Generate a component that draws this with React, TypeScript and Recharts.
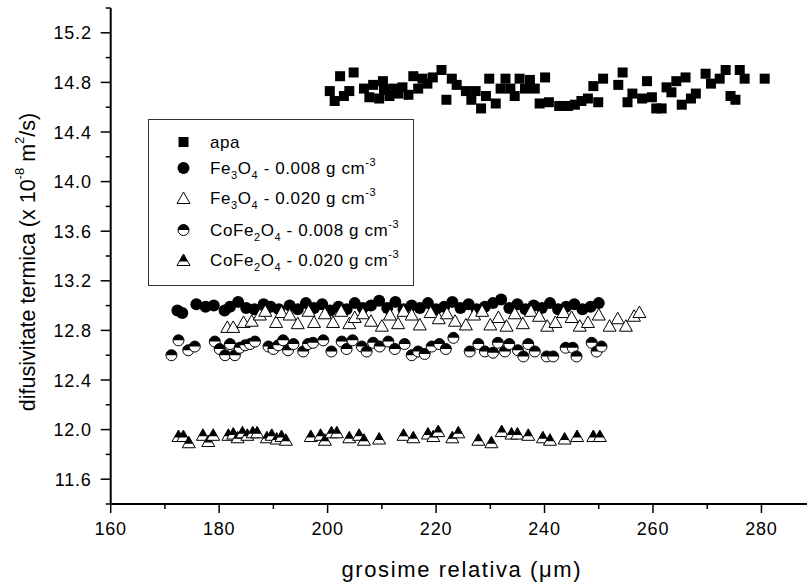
import React from 'react';
import { ScatterChart, Scatter, XAxis, YAxis, Legend } from 'recharts';

// ---------- data ----------
const apaX = [200.4, 201.3, 202.3, 203.0, 204.0, 204.8, 206.7, 207.7, 208.4, 209.5, 210.2, 210.4, 211.4, 212.1, 213.0, 213.8, 214.9, 215.8, 216.7, 217.5, 218.4, 219.4, 221.0, 221.9, 222.9, 223.8, 225.5, 226.5, 227.3, 228.3, 229.2, 229.8, 231.0, 231.9, 232.8, 233.7, 234.5, 235.4, 236.4, 237.3, 238.2, 239.1, 240.1, 240.8, 242.7, 244.3, 245.6, 246.8, 248.0, 249.0, 249.9, 250.8, 253.6, 254.4, 255.3, 256.2, 258.0, 258.9, 259.8, 260.6, 261.6, 262.5, 263.4, 264.3, 265.3, 266.0, 267.0, 267.9, 269.7, 270.7, 272.3, 273.4, 274.3, 275.2, 276.0, 276.9, 280.6];
const apaY = [14.73, 14.65, 14.85, 14.69, 14.73, 14.88, 14.75, 14.68, 14.78, 14.67, 14.81, 14.74, 14.69, 14.75, 14.71, 14.76, 14.70, 14.85, 14.75, 14.83, 14.79, 14.84, 14.90, 14.66, 14.83, 14.78, 14.73, 14.66, 14.73, 14.59, 14.69, 14.83, 14.63, 14.75, 14.83, 14.75, 14.69, 14.83, 14.75, 14.82, 14.75, 14.63, 14.84, 14.64, 14.61, 14.61, 14.62, 14.65, 14.67, 14.77, 14.64, 14.83, 14.78, 14.88, 14.64, 14.71, 14.67, 14.81, 14.68, 14.59, 14.59, 14.76, 14.72, 14.81, 14.62, 14.84, 14.67, 14.71, 14.87, 14.79, 14.83, 14.90, 14.69, 14.66, 14.90, 14.83, 14.83];

const fe008X = [172.3, 173.2, 175.8, 177.5, 179.0, 181.0, 182.0, 183.5, 185.0, 186.5, 188.2, 189.5, 191.0, 193.0, 194.5, 196.0, 197.5, 199.0, 200.5, 202.0, 203.5, 205.0, 206.5, 208.0, 209.5, 211.0, 212.5, 214.0, 215.5, 217.0, 218.5, 220.0, 221.5, 223.0, 224.5, 226.0, 227.5, 229.0, 230.5, 232.0, 233.5, 235.0, 236.5, 238.0, 239.5, 241.0, 242.5, 244.0, 245.5, 247.0, 248.5, 250.0];
const fe008Y = [12.96, 12.94, 13.01, 12.99, 13.00, 12.96, 12.99, 13.03, 12.98, 12.97, 13.01, 12.99, 12.97, 13.00, 12.97, 13.02, 12.98, 13.01, 12.96, 12.99, 12.97, 13.02, 12.98, 13.00, 13.04, 12.98, 13.03, 12.97, 13.00, 12.98, 13.02, 12.97, 12.99, 13.03, 12.98, 13.01, 12.97, 12.99, 13.02, 13.05, 12.98, 13.01, 12.97, 13.00, 12.98, 13.02, 12.97, 12.99, 13.01, 12.97, 12.99, 13.02];

const fe020X = [181.5, 182.6, 184.5, 186.0, 187.5, 188.5, 190.5, 191.5, 193.0, 194.5, 196.5, 197.5, 199.5, 201.0, 202.5, 204.0, 205.0, 206.5, 208.0, 210.0, 211.5, 213.0, 214.0, 215.5, 217.0, 219.0, 220.5, 222.0, 223.5, 225.5, 227.0, 228.5, 230.0, 231.5, 233.0, 234.5, 236.0, 237.5, 239.0, 240.5, 242.0, 243.5, 245.0, 246.5, 248.0, 250.0, 252.0, 253.5, 255.0, 256.5, 257.5];
const fe020Y = [12.82, 12.82, 12.86, 12.87, 12.92, 12.95, 12.86, 12.94, 12.92, 12.85, 12.95, 12.86, 12.93, 12.86, 12.95, 12.85, 12.90, 12.93, 12.87, 12.83, 12.92, 12.85, 12.95, 12.92, 12.84, 12.94, 12.89, 12.93, 12.87, 12.84, 12.92, 12.95, 12.84, 12.90, 12.83, 12.93, 12.85, 12.95, 12.91, 12.83, 12.86, 12.94, 12.90, 12.83, 12.86, 12.92, 12.83, 12.89, 12.83, 12.91, 12.94];

const co008X = [171.2, 172.5, 174.3, 175.5, 179.2, 180.1, 181.1, 182.0, 182.9, 183.8, 184.8, 185.7, 186.6, 189.1, 190.0, 190.9, 191.8, 192.7, 193.7, 195.5, 196.4, 197.3, 199.2, 200.7, 202.6, 203.5, 204.6, 206.3, 207.2, 208.4, 209.6, 211.2, 212.4, 214.2, 215.5, 216.7, 217.9, 219.2, 220.6, 221.8, 223.2, 226.2, 227.8, 229.0, 230.5, 231.4, 232.7, 233.5, 235.1, 236.1, 237.0, 238.2, 240.4, 241.6, 243.9, 245.2, 245.9, 248.7, 249.6, 250.5];
const co008Y = [12.60, 12.72, 12.64, 12.67, 12.71, 12.65, 12.60, 12.69, 12.60, 12.66, 12.68, 12.69, 12.71, 12.67, 12.65, 12.68, 12.72, 12.64, 12.69, 12.63, 12.69, 12.70, 12.72, 12.63, 12.71, 12.65, 12.72, 12.67, 12.63, 12.70, 12.67, 12.71, 12.65, 12.69, 12.60, 12.63, 12.61, 12.67, 12.69, 12.65, 12.74, 12.63, 12.69, 12.63, 12.62, 12.70, 12.63, 12.69, 12.64, 12.59, 12.69, 12.63, 12.59, 12.59, 12.66, 12.66, 12.59, 12.70, 12.63, 12.67];

const co020X = [172.5, 173.4, 174.4, 177.0, 178.0, 178.9, 181.7, 182.6, 183.4, 184.3, 185.2, 186.2, 187.0, 188.8, 189.7, 190.6, 191.5, 192.3, 196.9, 198.7, 199.5, 200.7, 201.7, 204.0, 205.8, 206.7, 209.5, 214.0, 215.8, 218.5, 219.5, 220.4, 223.0, 224.1, 227.8, 230.2, 232.1, 233.9, 235.0, 237.0, 239.7, 241.0, 243.7, 246.0, 249.0, 250.2];
const co020Y = [11.94, 11.94, 11.89, 11.95, 11.90, 11.95, 11.95, 11.96, 11.93, 11.97, 11.95, 11.97, 11.97, 11.93, 11.95, 11.92, 11.94, 11.91, 11.94, 11.95, 11.91, 11.97, 11.97, 11.93, 11.95, 11.91, 11.92, 11.95, 11.93, 11.96, 11.94, 11.98, 11.93, 11.97, 11.91, 11.89, 11.98, 11.96, 11.96, 11.95, 11.93, 11.91, 11.92, 11.94, 11.94, 11.94];

const xTicks = [160, 170, 180, 190, 200, 210, 220, 230, 240, 250, 260, 270, 280];
const yTicks = [11.4, 11.6, 11.8, 12.0, 12.2, 12.4, 12.6, 12.8, 13.0, 13.2, 13.4, 13.6, 13.8, 14.0, 14.2, 14.4, 14.6, 14.8, 15.0, 15.2, 15.4];

const seriesNames = ['apa', 'Fe3O4 - 0.008', 'Fe3O4 - 0.020', 'CoFe2O4 - 0.008', 'CoFe2O4 - 0.020'];
const xTitleText = 'grosime relativa (\u03BCm)';

const zip = (xs: number[], ys: number[]) => xs.map((x, i) => ({ x, y: ys[i] }));

const FONT = '"Liberation Sans", Arial, sans-serif';

// ---------- marker shapes ----------
const SquareMark = ({ cx, cy }: any) => <rect x={cx - 5} y={cy - 5} width={10} height={10} fill="#000" />;
const CircleMark = ({ cx, cy }: any) => <circle cx={cx} cy={cy} r={6} fill="#000" />;
const triPts = (cx: number, cy: number) => `${cx},${cy - 7} ${cx + 6.5},${cy + 4.5} ${cx - 6.5},${cy + 4.5}`;
const TriOpen = ({ cx, cy }: any) => <polygon points={triPts(cx, cy)} fill="#fff" stroke="#000" strokeWidth={1} />;
const HalfCircle = ({ cx, cy }: any) => (
  <g>
    <circle cx={cx} cy={cy} r={5.5} fill="#fff" stroke="#000" strokeWidth={1} />
    <path d={`M${cx - 5.5},${cy} A5.5,5.5 0 0 1 ${cx + 5.5},${cy} Z`} fill="#000" />
  </g>
);
const HalfTri = ({ cx, cy }: any) => {
  const yb = cy + 0.5;
  const hw = 6.5 * (7.5 / 11.5);
  return (
    <g>
      <polygon points={triPts(cx, cy)} fill="#fff" stroke="#000" strokeWidth={1} />
      <polygon points={`${cx},${cy - 7} ${cx + hw},${yb} ${cx - hw},${yb}`} fill="#000" />
    </g>
  );
};

// ---------- ticks ----------
const XTick = ({ x, y, payload }: any) => {
  const v = payload.value;
  const major = v % 20 === 0;
  return (
    <g>
      <line x1={x} y1={y} x2={x} y2={y + (major ? 9 : 5)} stroke="#000" strokeWidth={1.5} />
      {major && (
        <text x={x} y={y + 31} textAnchor="middle" fontFamily={FONT} fontSize={18} letterSpacing={0.8} fill="#000">
          {v}
        </text>
      )}
    </g>
  );
};
const YTick = ({ x, y, payload }: any) => {
  const v = payload.value;
  const major = Math.round(v * 10) % 4 === 0;
  return (
    <g>
      <line x1={x} y1={y} x2={x - (major ? 10 : 5)} y2={y} stroke="#000" strokeWidth={1.5} />
      {major && (
        <text x={x - 19} y={y + 6.5} textAnchor="end" fontFamily={FONT} fontSize={18} letterSpacing={0.8} fill="#000">
          {v.toFixed(1)}
        </text>
      )}
    </g>
  );
};

// ---------- legend ----------
const legendRows = [
  { mark: 'sq', main: 'apa' },
  { mark: 'ci', main: 'Fe', s1: '3', m2: 'O', s2: '4', rest: ' - 0.008 g cm' },
  { mark: 'to', main: 'Fe', s1: '3', m2: 'O', s2: '4', rest: ' - 0.020 g cm' },
  { mark: 'hc', main: 'CoFe', s1: '2', m2: 'O', s2: '4', rest: ' - 0.008 g cm' },
  { mark: 'ht', main: 'CoFe', s1: '2', m2: 'O', s2: '4', rest: ' - 0.020 g cm' },
];
const rowY = [23, 49, 79, 111, 141];

const LegendBox = () => (
  <svg width={266} height={167} style={{ display: 'block' }}>
    <rect x={0.5} y={0.5} width={265} height={166} fill="#fff" stroke="#333" strokeWidth={1} />
    {legendRows.map((r, i) => {
      const cy = rowY[i];
      const cx = 35.5;
      let m: React.ReactNode = null;
      if (r.mark === 'sq') m = <SquareMark cx={cx} cy={cy} />;
      if (r.mark === 'ci') m = <CircleMark cx={cx} cy={cy} />;
      if (r.mark === 'to') m = <TriOpen cx={cx} cy={cy + 1} />;
      if (r.mark === 'hc') m = <HalfCircle cx={cx} cy={cy} />;
      if (r.mark === 'ht') m = <HalfTri cx={cx} cy={cy + 1} />;
      return (
        <g key={i}>
          {m}
          <text x={62} y={cy + 6} fontFamily={FONT} fontSize={17} fill="#000" letterSpacing={0.6}>
            <tspan>{r.main}</tspan>
            {r.s1 && (
              <>
                <tspan fontSize={11} dy={5}>{r.s1}</tspan>
                <tspan dy={-5}>{r.m2}</tspan>
                <tspan fontSize={11} dy={5}>{r.s2}</tspan>
                <tspan dy={-5}>{r.rest}</tspan>
                <tspan fontSize={11} dy={-8}>-3</tspan>
              </>
            )}
          </text>
        </g>
      );
    })}
  </svg>
);

const XTitle = (props: any) => {
  const vb = props.viewBox || {};
  const cx = (vb.x ?? 111) + (vb.width ?? 696) / 2 + 3;
  const y = (vb.y ?? 504) + 73;
  return (
    <text x={cx} y={y} textAnchor="middle" fontFamily={FONT} fontSize={22} letterSpacing={1.6} fill="#000">
      {xTitleText}
    </text>
  );
};

const YTitle = (props: any) => {
  const vb = props.viewBox || {};
  const cx = 28;
  const cy = (vb.y ?? 8) + (vb.height ?? 496) / 2 + 6;
  return (
    <text
      x={cx}
      y={cy}
      transform={`rotate(-90 ${cx} ${cy})`}
      textAnchor="middle"
      dominantBaseline="central"
      fontFamily={FONT}
      fontSize={21.5}
      fill="#000"
    >
      <tspan>difusivitate termica (x 10</tspan>
      <tspan fontSize={13} dy={-9}>-8</tspan>
      <tspan dy={9}> m</tspan>
      <tspan fontSize={13} dy={-9}>2</tspan>
      <tspan dy={9}>/s)</tspan>
    </text>
  );
};

export default function App() {
  return (
    <div style={{ position: 'absolute', left: 0, top: 0, width: 807, height: 584, background: '#fff' }}>
      <ScatterChart width={807} height={584} margin={{ top: 8, right: 0, bottom: 20, left: 0 }}>
        <XAxis
          type="number"
          dataKey="x"
          domain={[160, 288.4]}
          ticks={xTicks}
          allowDataOverflow
          interval={0}
          tickLine={false}
          tickSize={0}
          tickMargin={0}
          height={60}
          axisLine={{ stroke: '#000', strokeWidth: 2 }}
          tick={<XTick />}
          label={XTitle}
        />
        <YAxis
          type="number"
          dataKey="y"
          domain={[11.4, 15.4]}
          ticks={yTicks}
          allowDataOverflow
          interval={0}
          tickLine={false}
          tickSize={0}
          tickMargin={0}
          width={110.7}
          axisLine={{ stroke: '#000', strokeWidth: 2 }}
          tick={<YTick />}
          label={YTitle}
        />
        <Legend
          layout="vertical"
          align="center"
          verticalAlign="middle"
          content={() => <LegendBox />}
          wrapperStyle={{ position: 'absolute', left: 148, top: 119, width: 266, height: 167 }}
        />
        <Scatter name={seriesNames[0]} data={zip(apaX, apaY)} shape={<SquareMark />} isAnimationActive={false} />
        <Scatter name={seriesNames[1]} data={zip(fe008X, fe008Y)} shape={<CircleMark />} isAnimationActive={false} />
        <Scatter name={seriesNames[2]} data={zip(fe020X, fe020Y)} shape={<TriOpen />} isAnimationActive={false} />
        <Scatter name={seriesNames[3]} data={zip(co008X, co008Y)} shape={<HalfCircle />} isAnimationActive={false} />
        <Scatter name={seriesNames[4]} data={zip(co020X, co020Y)} shape={<HalfTri />} isAnimationActive={false} />
      </ScatterChart>
    </div>
  );
}
